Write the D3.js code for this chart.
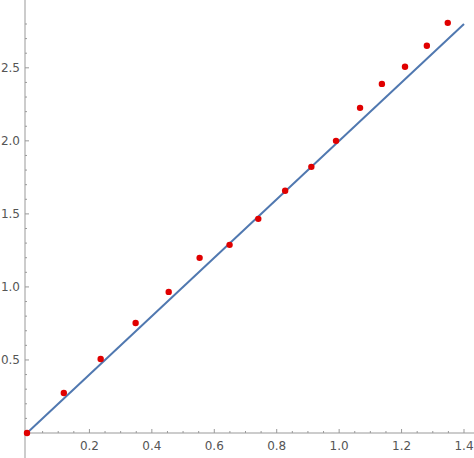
<!DOCTYPE html>
<html><head><meta charset="utf-8">
<script src="https://cdn.jsdelivr.net/npm/d3@7"></script>
<style>body{margin:0;background:#fff}</style></head>
<body><svg id="c" width="474" height="458"></svg>
<script>
const xs=[0,0.118,0.236,0.348,0.454,0.553,0.649,0.741,0.827,0.911,0.990,1.067,1.137,1.211,1.281,1.348];
const ys=[0,0.274,0.507,0.753,0.966,1.199,1.288,1.466,1.658,1.822,2.0,2.226,2.390,2.507,2.651,2.808];
const lineX=[0,1.4];
const slope=2;
const xTicks=[0.2,0.4,0.6,0.8,1.0,1.2,1.4];
const yTicks=[0.5,1.0,1.5,2.0,2.5];
const svg=d3.select("#c");
const x=d3.scaleLinear().domain([0,1.4]).range([27,464]);
const y=d3.scaleLinear().domain([0,2.8]).range([433,24]);
const col="#555";
svg.append("line").attr("x1",25).attr("x2",474).attr("y1",433).attr("y2",433).attr("stroke","#999");
svg.append("line").attr("x1",25).attr("x2",25).attr("y1",0).attr("y2",458).attr("stroke","#999");
const xminor=d3.range(0.05,1.45,0.05);
xminor.forEach(v=>{const big=xTicks.some(t=>Math.abs(t-v)<1e-6);
 svg.append("line").attr("x1",x(v)).attr("x2",x(v)).attr("y1",433).attr("y2",433-(big?4:2)).attr("stroke","#999");});
d3.range(0.1,2.85,0.1).forEach(v=>{const big=yTicks.some(t=>Math.abs(t-v)<1e-6);
 svg.append("line").attr("x1",25).attr("x2",25+(big?4:2)).attr("y1",y(v)).attr("y2",y(v)).attr("stroke","#999");});
svg.selectAll(".xt").data(xTicks).enter().append("text").attr("x",d=>x(d)).attr("y",450)
 .attr("text-anchor","middle").attr("font-family","DejaVu Sans").attr("font-size",12).attr("fill",col).text(d=>d.toFixed(1));
svg.selectAll(".yt").data(yTicks).enter().append("text").attr("x",20).attr("y",d=>y(d)+4)
 .attr("text-anchor","end").attr("font-family","DejaVu Sans").attr("font-size",12).attr("fill",col).text(d=>d.toFixed(1));
svg.append("line").attr("x1",x(lineX[0])).attr("y1",y(lineX[0]*slope)).attr("x2",x(lineX[1])).attr("y2",y(lineX[1]*slope))
 .attr("stroke","#5078b0").attr("stroke-width",2);
svg.selectAll("circle").data(xs).enter().append("circle").attr("cx",d=>x(d)).attr("cy",(d,i)=>y(ys[i])).attr("r",3.2).attr("fill","#e00000");
</script></body></html>
